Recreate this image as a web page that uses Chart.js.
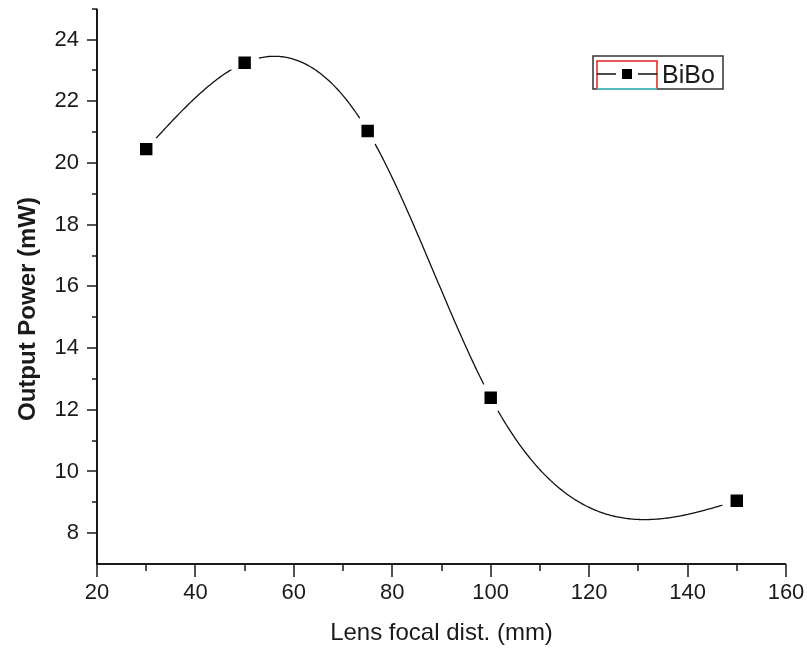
<!DOCTYPE html>
<html>
<head>
<meta charset="utf-8">
<script src="https://cdn.jsdelivr.net/npm/chart.js@4.4.0/dist/chart.umd.min.js"></script>
<style>
  html, body { margin: 0; padding: 0; background: #fff; }
  canvas { display: block; }
</style>
</head>
<body>
<canvas id="chart" width="807" height="651"></canvas>
<script>
// Output power vs lens focal distance, BiBo crystal
const focalDist = [30, 50, 75, 100, 150];
const outputPower = [20.45, 23.25, 21.04, 12.39, 9.05];

const xMajorTicks = [20, 40, 60, 80, 100, 120, 140, 160];
const xMinorTicks = [30, 50, 70, 90, 110, 130, 150];
const yMajorTicks = [8, 10, 12, 14, 16, 18, 20, 22, 24];
const yMinorTicks = [9, 11, 13, 15, 17, 19, 21, 23, 25];

const seriesName = 'BiBo';
const yTitle = 'Output Power (mW)';
const xTitle = 'Lens focal dist. (mm)';
const FONT = '"Liberation Sans", Arial, sans-serif';
const INK = '#1a1a1a';

// second derivatives for a natural cubic spline through the points
function splineSecondDerivs(xs, ys) {
  const n = xs.length;
  const m = new Array(n).fill(0);
  const a = [], b = [], c = [], d = [];
  for (let i = 1; i < n - 1; i++) {
    const h0 = xs[i] - xs[i - 1], h1 = xs[i + 1] - xs[i];
    a.push(h0 / 6); b.push((h0 + h1) / 3); c.push(h1 / 6);
    d.push((ys[i + 1] - ys[i]) / h1 - (ys[i] - ys[i - 1]) / h0);
  }
  const k = b.length;
  for (let i = 1; i < k; i++) {
    const w = a[i] / b[i - 1];
    b[i] -= w * c[i - 1];
    d[i] -= w * d[i - 1];
  }
  const sol = new Array(k);
  for (let i = k - 1; i >= 0; i--) {
    sol[i] = (d[i] - (i < k - 1 ? c[i] * sol[i + 1] : 0)) / b[i];
  }
  for (let i = 0; i < k; i++) m[i + 1] = sol[i];
  return m;
}

function splineAt(xs, ys, m, x) {
  let i = 0;
  while (i < xs.length - 2 && x > xs[i + 1]) i++;
  const h = xs[i + 1] - xs[i];
  const A = (xs[i + 1] - x) / h, B = (x - xs[i]) / h;
  return A * ys[i] + B * ys[i + 1] + ((A * A * A - A) * m[i] + (B * B * B - B) * m[i + 1]) * h * h / 6;
}

// smooth connecting curve, with gaps around the symbols
const splinePlugin = {
  id: 'splineLine',
  beforeDatasetsDraw(chart) {
    const { ctx, chartArea, scales: { x, y } } = chart;
    const m = splineSecondDerivs(focalDist, outputPower);
    const x0 = focalDist[0], x1 = focalDist[focalDist.length - 1];
    ctx.save();
    ctx.beginPath();
    ctx.rect(chartArea.left, chartArea.top, chartArea.right - chartArea.left, chartArea.bottom - chartArea.top);
    ctx.clip();
    ctx.beginPath();
    const steps = 400;
    for (let s = 0; s <= steps; s++) {
      const xv = x0 + (x1 - x0) * s / steps;
      const px = x.getPixelForValue(xv);
      const py = y.getPixelForValue(splineAt(focalDist, outputPower, m, xv));
      if (s === 0) ctx.moveTo(px, py); else ctx.lineTo(px, py);
    }
    ctx.strokeStyle = '#111';
    ctx.lineWidth = 1.3;
    ctx.stroke();
    // knock the line out around each symbol
    ctx.fillStyle = '#fff';
    focalDist.forEach((fx, i) => {
      ctx.beginPath();
      ctx.arc(x.getPixelForValue(fx), y.getPixelForValue(outputPower[i]), 15, 0, Math.PI * 2);
      ctx.fill();
    });
    ctx.restore();
  }
};

// axis lines, major/minor tick marks, y title and the legend box
const framePlugin = {
  id: 'frame',
  afterDraw(chart) {
    const { ctx, chartArea: ca, scales: { x, y } } = chart;
    ctx.save();
    ctx.strokeStyle = INK;
    ctx.lineWidth = 2;
    ctx.beginPath();
    ctx.moveTo(ca.left, ca.top);
    ctx.lineTo(ca.left, ca.bottom);
    ctx.lineTo(ca.right, ca.bottom);
    ctx.stroke();

    ctx.lineWidth = 1.5;
    ctx.beginPath();
    xMajorTicks.forEach(v => {
      const px = Math.round(x.getPixelForValue(v));
      ctx.moveTo(px, ca.bottom); ctx.lineTo(px, ca.bottom + 13);
    });
    xMinorTicks.forEach(v => {
      const px = Math.round(x.getPixelForValue(v));
      ctx.moveTo(px, ca.bottom); ctx.lineTo(px, ca.bottom + 7);
    });
    yMajorTicks.forEach(v => {
      const py = Math.round(y.getPixelForValue(v));
      ctx.moveTo(ca.left, py); ctx.lineTo(ca.left - 10, py);
    });
    yMinorTicks.forEach(v => {
      const py = Math.round(y.getPixelForValue(v));
      ctx.moveTo(ca.left, py); ctx.lineTo(ca.left - 5, py);
    });
    ctx.stroke();

    // y title sits a little below the axis middle
    ctx.save();
    ctx.translate(28, 309);
    ctx.rotate(-Math.PI / 2);
    ctx.font = 'bold 24px ' + FONT;
    ctx.fillStyle = INK;
    ctx.textAlign = 'center';
    ctx.textBaseline = 'middle';
    ctx.fillText(yTitle, 0, 0);
    ctx.restore();

    // legend
    ctx.lineWidth = 1.5;
    ctx.strokeStyle = '#333';
    ctx.strokeRect(593, 56, 130, 33);
    ctx.strokeStyle = '#e02020';
    ctx.strokeRect(597, 61, 60, 28);
    ctx.strokeStyle = '#30e8f0';
    ctx.beginPath();
    ctx.moveTo(597, 89); ctx.lineTo(657, 89);
    ctx.stroke();
    ctx.strokeStyle = '#111';
    ctx.lineWidth = 1.3;
    ctx.beginPath();
    ctx.moveTo(597, 74); ctx.lineTo(616, 74);
    ctx.moveTo(638, 74); ctx.lineTo(657, 74);
    ctx.stroke();
    ctx.fillStyle = '#000';
    ctx.fillRect(622, 69, 10, 10);
    ctx.font = '25px ' + FONT;
    ctx.fillStyle = INK;
    ctx.textBaseline = 'alphabetic';
    ctx.fillText(seriesName, 662, 83);
    ctx.restore();
  }
};

// fixed scale box sizes, and no extra room for overhanging labels
function fixBox(size, isX) {
  return s => {
    if (isX) s.height = size; else s.width = size;
    s.paddingLeft = s.paddingRight = s.paddingTop = s.paddingBottom = 0;
  };
}

new Chart(document.getElementById('chart'), {
  type: 'scatter',
  data: {
    datasets: [{
      label: seriesName,
      data: focalDist.map((fx, i) => ({ x: fx, y: outputPower[i] })),
      showLine: false,
      pointStyle: 'rect',
      pointRadius: 8.8,
      pointHoverRadius: 8.8,
      pointBorderWidth: 0,
      pointBackgroundColor: '#000',
      pointBorderColor: '#000'
    }]
  },
  options: {
    responsive: false,
    animation: false,
    devicePixelRatio: 1,
    events: [],
    layout: { padding: { top: 8, right: 21, left: 0, bottom: 0 } },
    plugins: { legend: { display: false }, tooltip: { enabled: false } },
    scales: {
      x: {
        type: 'linear',
        min: 20, max: 160,
        grid: { display: false, drawTicks: false },
        border: { display: false },
        afterBuildTicks: s => { s.ticks = xMajorTicks.map(v => ({ value: v })); },
        afterFit: fixBox(87, true),
        ticks: { padding: 16, color: INK, font: { family: FONT, size: 22 }, maxRotation: 0 },
        title: {
          display: true, text: xTitle, color: INK,
          font: { family: FONT, size: 24 }, padding: { top: 0, bottom: 3 }
        }
      },
      y: {
        type: 'linear',
        min: 7, max: 25,
        grid: { display: false, drawTicks: false },
        border: { display: false },
        afterBuildTicks: s => { s.ticks = yMajorTicks.map(v => ({ value: v })); },
        afterFit: fixBox(97, false),
        ticks: { padding: 18, color: INK, font: { family: FONT, size: 22 } },
        title: { display: false }
      }
    }
  },
  plugins: [splinePlugin, framePlugin]
});
</script>
</body>
</html>
